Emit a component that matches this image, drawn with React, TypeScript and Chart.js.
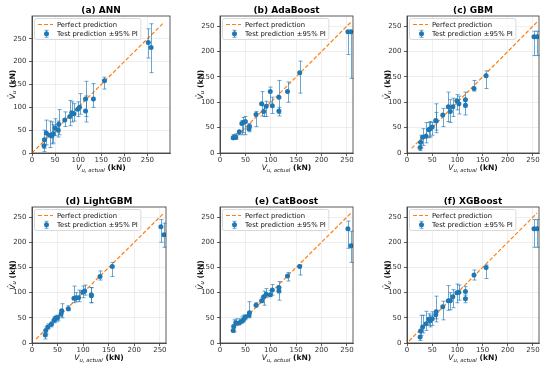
import React, { useEffect, useRef } from 'react';
import { Chart, registerables } from 'chart.js';

Chart.register(...registerables);

const FONT = "'DejaVu Sans', sans-serif";
const BLUE = '#1f77b4';
const ORANGE = '#ff7f0e';
const ERR = 'rgba(31,119,180,0.65)';

// ---- data ----
const ACTUAL = [26, 27, 31, 38, 43, 46, 50, 57, 58, 71, 82, 86, 91, 99, 103, 116, 116, 133, 157, 252, 258];
const TICKS = [0, 50, 100, 150, 200, 250];
const TITLES = ['(a) ANN', '(b) AdaBoost', '(c) GBM', '(d) LightGBM', '(e) CatBoost', '(f) XGBoost'];
const LEGEND_LABELS = ['Perfect prediction', 'Test prediction \u00b195% PI'];

const ANN_PRED = [16, 29, 44, 39, 37, 42, 55, 50, 63, 72, 80, 88, 86, 96, 100, 118, 92, 118, 158, 242, 231];
const ANN_LO = [3, 10, 18, 12, 20, 22, 38, 35, 40, 58, 60, 68, 70, 80, 85, 80, 68, 100, 140, 208, 176];
const ANN_HI = [30, 50, 72, 70, 68, 62, 75, 70, 95, 90, 115, 112, 108, 112, 130, 157, 125, 152, 166, 272, 283];

const ADA_PRED = [30, 30, 31, 42, 58, 60, 62, 48, 52, 76, 97, 82, 92, 121, 93, 110, 83, 121, 158, 239, 239];
const ADA_LO = [27, 27, 27, 36, 36, 40, 36, 42, 44, 52, 73, 72, 72, 100, 78, 73, 78, 100, 118, 194, 147];
const ADA_HI = [36, 36, 38, 44, 64, 70, 72, 55, 58, 82, 121, 94, 102, 130, 110, 143, 90, 140, 181, 240, 240];

const GBM_PRED = [11, 21, 31, 33, 46, 48, 51, 64, 63, 75, 91, 82, 91, 103, 97, 105, 94, 127, 152, 229, 229];
const GBM_LO = [5, 10, 15, 20, 30, 32, 35, 40, 45, 52, 62, 60, 72, 85, 77, 90, 75, 122, 127, 192, 192];
const GBM_HI = [22, 35, 48, 60, 60, 62, 60, 97, 80, 88, 120, 105, 108, 115, 112, 120, 105, 143, 162, 240, 240];

const LGB_PRED = [16, 25, 32, 37, 45, 49, 50, 58, 64, 68, 89, 90, 90, 101, 103, 96, 94, 132, 152, 231, 215];
const LGB_LO = [8, 18, 28, 32, 40, 42, 44, 52, 50, 64, 80, 82, 82, 90, 95, 80, 80, 125, 132, 200, 190];
const LGB_HI = [25, 32, 38, 42, 52, 55, 55, 66, 78, 74, 113, 100, 105, 113, 115, 110, 110, 143, 160, 245, 238];

const CAT_PRED = [25, 33, 40, 40, 43, 46, 51, 55, 60, 75, 84, 92, 97, 96, 105, 110, 103, 133, 152, 227, 193];
const CAT_LO = [22, 22, 35, 36, 40, 42, 46, 50, 52, 72, 80, 75, 90, 92, 95, 100, 85, 123, 135, 188, 160];
const CAT_HI = [35, 46, 48, 48, 52, 55, 56, 60, 82, 80, 90, 103, 108, 104, 116, 122, 110, 140, 155, 242, 222];

const XGB_PRED = [12, 24, 32, 38, 47, 44, 48, 56, 62, 72, 84, 84, 92, 100, 101, 102, 88, 135, 150, 227, 227];
const XGB_LO = [5, 15, 20, 25, 35, 32, 35, 48, 42, 46, 65, 66, 70, 80, 85, 90, 80, 125, 128, 190, 190];
const XGB_HI = [22, 55, 55, 63, 58, 55, 62, 65, 93, 83, 114, 100, 106, 117, 115, 112, 95, 145, 155, 245, 245];

// perfect-prediction line extents
const LINE_ANN = [0, 285];
const LINE_ADA = [26, 258];
const LINE_GBM = [9, 258];
const LINE_LGB = [8, 258];
const LINE_CAT = [25, 258];
const LINE_XGB = [4, 258];

// axis upper limits [x, y]
const LIM_ANN = [299, 300];
const LIM_OTHER = [262, 270];

type PanelDef = {
  title: string; pred: number[]; lo: number[]; hi: number[]; line: number[]; lim: number[];
  left: number; top: number; pw: number; ph: number;
};

const PANELS: PanelDef[] = [
  { title: TITLES[0], pred: ANN_PRED, lo: ANN_LO, hi: ANN_HI, line: LINE_ANN, lim: LIM_ANN, left: 32, top: 16, pw: 138, ph: 137 },
  { title: TITLES[1], pred: ADA_PRED, lo: ADA_LO, hi: ADA_HI, line: LINE_ADA, lim: LIM_OTHER, left: 220, top: 16, pw: 133, ph: 137 },
  { title: TITLES[2], pred: GBM_PRED, lo: GBM_LO, hi: GBM_HI, line: LINE_GBM, lim: LIM_OTHER, left: 407, top: 16, pw: 132, ph: 137 },
  { title: TITLES[3], pred: LGB_PRED, lo: LGB_LO, hi: LGB_HI, line: LINE_LGB, lim: LIM_OTHER, left: 32, top: 207, pw: 134, ph: 136 },
  { title: TITLES[4], pred: CAT_PRED, lo: CAT_LO, hi: CAT_HI, line: LINE_CAT, lim: LIM_OTHER, left: 220, top: 207, pw: 133, ph: 136 },
  { title: TITLES[5], pred: XGB_PRED, lo: XGB_LO, hi: XGB_HI, line: LINE_XGB, lim: LIM_OTHER, left: 407, top: 207, pw: 132, ph: 136 },
];

const PAD_L = 32, PAD_T = 16, PAD_R = 4, PAD_B = 24;

type Piece = { t: string; font: string; dy?: number };

function rich(ctx: CanvasRenderingContext2D, pieces: Piece[], cx: number, by: number) {
  let total = 0;
  const widths = pieces.map((p) => { ctx.font = p.font; const w = ctx.measureText(p.t).width; total += w; return w; });
  let x = cx - total / 2;
  ctx.textAlign = 'left';
  ctx.textBaseline = 'alphabetic';
  pieces.forEach((p, i) => {
    ctx.font = p.font;
    ctx.fillText(p.t, x, by + (p.dy || 0));
    x += widths[i];
  });
}

function makeDecor(p: PanelDef) {
  return {
    id: 'decor',
    beforeDatasetDraw(chart: any, args: any) {
      if (args.index !== 0) return;
      const { ctx } = chart;
      const xs = chart.scales.x, ys = chart.scales.y;
      ctx.save();
      ctx.strokeStyle = ERR;
      ctx.lineWidth = 1;
      for (let i = 0; i < ACTUAL.length; i++) {
        const px = Math.round(xs.getPixelForValue(ACTUAL[i])) + 0.5;
        const yl = ys.getPixelForValue(p.lo[i]);
        const yh = ys.getPixelForValue(p.hi[i]);
        ctx.beginPath();
        ctx.moveTo(px, yl); ctx.lineTo(px, yh);
        ctx.moveTo(px - 2, yl); ctx.lineTo(px + 2, yl);
        ctx.moveTo(px - 2, yh); ctx.lineTo(px + 2, yh);
        ctx.stroke();
      }
      ctx.restore();
    },
    afterDraw(chart: any) {
      const { ctx, chartArea: a } = chart;
      ctx.save();
      // spines
      ctx.strokeStyle = '#333';
      ctx.lineWidth = 0.8;
      ctx.strokeRect(a.left, a.top, a.right - a.left, a.bottom - a.top);
      // title
      ctx.fillStyle = '#000';
      ctx.font = `bold 9px ${FONT}`;
      ctx.textAlign = 'center';
      ctx.textBaseline = 'alphabetic';
      ctx.fillText(p.title, (a.left + a.right) / 2, a.top - 3.3);
      // x label
      ctx.fillStyle = '#111';
      rich(ctx, [
        { t: 'V', font: `italic 7.6px ${FONT}` },
        { t: 'u, actual', font: `italic 5.4px ${FONT}`, dy: 1.8 },
        { t: ' (kN)', font: `bold 7.6px ${FONT}` },
      ], (a.left + a.right) / 2, a.bottom + 17.3);
      // y label
      ctx.save();
      ctx.translate(a.left - 17.5, (a.top + a.bottom) / 2);
      ctx.rotate(-Math.PI / 2);
      rich(ctx, [
        { t: 'V\u0302', font: `italic 7.6px ${FONT}` },
        { t: 'u', font: `italic 5.4px ${FONT}`, dy: 1.8 },
        { t: ' (kN)', font: `bold 7.6px ${FONT}` },
      ], 0, 0);
      ctx.restore();
      // legend
      const fx = a.left + 2.5, fy = a.top + 2.5;
      ctx.font = `6.8px ${FONT}`;
      const tw = Math.max(ctx.measureText(LEGEND_LABELS[0]).width, ctx.measureText(LEGEND_LABELS[1]).width);
      const fw = 25 - 2.5 + tw + 3;
      const fh = 21;
      ctx.beginPath();
      if ((ctx as any).roundRect) (ctx as any).roundRect(fx, fy, fw, fh, 2);
      else ctx.rect(fx, fy, fw, fh);
      ctx.fillStyle = 'rgba(255,255,255,0.8)';
      ctx.fill();
      ctx.strokeStyle = '#d0d0d0';
      ctx.lineWidth = 0.8;
      ctx.stroke();
      const y1 = a.top + 8.5, y2 = a.top + 17.8;
      ctx.strokeStyle = ORANGE;
      ctx.lineWidth = 1.2;
      ctx.setLineDash([4, 2]);
      ctx.beginPath();
      ctx.moveTo(a.left + 6, y1); ctx.lineTo(a.left + 21, y1);
      ctx.stroke();
      ctx.setLineDash([]);
      const mx = Math.round(a.left + 13.5) + 0.5;
      ctx.strokeStyle = ERR;
      ctx.lineWidth = 1;
      ctx.beginPath();
      ctx.moveTo(mx, y2 - 3.5); ctx.lineTo(mx, y2 + 3.5);
      ctx.moveTo(mx - 2, y2 - 3.5); ctx.lineTo(mx + 2, y2 - 3.5);
      ctx.moveTo(mx - 2, y2 + 3.5); ctx.lineTo(mx + 2, y2 + 3.5);
      ctx.stroke();
      ctx.fillStyle = BLUE;
      ctx.beginPath();
      ctx.arc(mx, y2, 2.5, 0, Math.PI * 2);
      ctx.fill();
      ctx.fillStyle = '#111';
      ctx.font = `6.8px ${FONT}`;
      ctx.textAlign = 'left';
      ctx.textBaseline = 'middle';
      ctx.fillText(LEGEND_LABELS[0], a.left + 25, y1 + 0.3);
      ctx.fillText(LEGEND_LABELS[1], a.left + 25, y2 + 0.3);
      ctx.restore();
    },
  };
}

function axisOpts(max: number, isY: boolean) {
  return {
    type: 'linear',
    min: 0,
    max,
    afterBuildTicks: (s: any) => { s.ticks = TICKS.map((v) => ({ value: v })); },
    afterFit: (s: any) => { if (isY) s.width = PAD_L; else s.height = PAD_B; },
    grid: {
      color: 'rgba(0,0,0,0.09)',
      lineWidth: 0.7,
      drawTicks: true,
      tickLength: 3,
      tickColor: '#333',
      tickWidth: 0.8,
    },
    border: { display: true, color: '#333', width: 0.8 },
    ticks: {
      color: '#333',
      font: { family: FONT, size: 7 },
      padding: isY ? 2.5 : 0,
      maxRotation: 0,
      autoSkip: false,
    },
  };
}

function Panel({ p }: { p: PanelDef }) {
  const ref = useRef<HTMLCanvasElement>(null);
  const w = PAD_L + p.pw + PAD_R;
  const h = PAD_T + p.ph + PAD_B;
  useEffect(() => {
    if (!ref.current) return;
    const pts = ACTUAL.map((x, i) => ({ x, y: p.pred[i] }));
    const chart = new Chart(ref.current, {
      type: 'scatter',
      data: {
        datasets: [
          {
            label: LEGEND_LABELS[1],
            data: pts,
            pointRadius: 2.5,
            pointHoverRadius: 2.5,
            backgroundColor: BLUE,
            borderWidth: 0,
          },
          {
            label: LEGEND_LABELS[0],
            data: [{ x: p.line[0], y: p.line[0] }, { x: p.line[1], y: p.line[1] }],
            showLine: true,
            borderColor: ORANGE,
            borderDash: [4, 2],
            borderWidth: 1.2,
            pointRadius: 0,
            fill: false,
          } as any,
        ],
      },
      options: {
        responsive: false,
        animation: false,
        devicePixelRatio: 1,
        events: [],
        layout: { padding: { top: PAD_T, right: PAD_R, bottom: 0, left: 0 } },
        plugins: {
          legend: { display: false },
          tooltip: { enabled: false },
          title: { display: false },
        },
        scales: {
          x: axisOpts(p.lim[0], false) as any,
          y: axisOpts(p.lim[1], true) as any,
        },
      },
      plugins: [makeDecor(p) as any],
    });
    return () => chart.destroy();
  }, []);
  return (
    <canvas
      ref={ref}
      width={w}
      height={h}
      style={{ position: 'absolute', left: p.left - PAD_L, top: p.top - PAD_T, width: w, height: h, display: 'block' }}
    />
  );
}

export default function App() {
  return (
    <div style={{ position: 'fixed', left: 0, top: 0, width: 550, height: 368, background: '#fff', overflow: 'hidden' }}>
      {PANELS.map((p, i) => <Panel key={i} p={p} />)}
    </div>
  );
}
